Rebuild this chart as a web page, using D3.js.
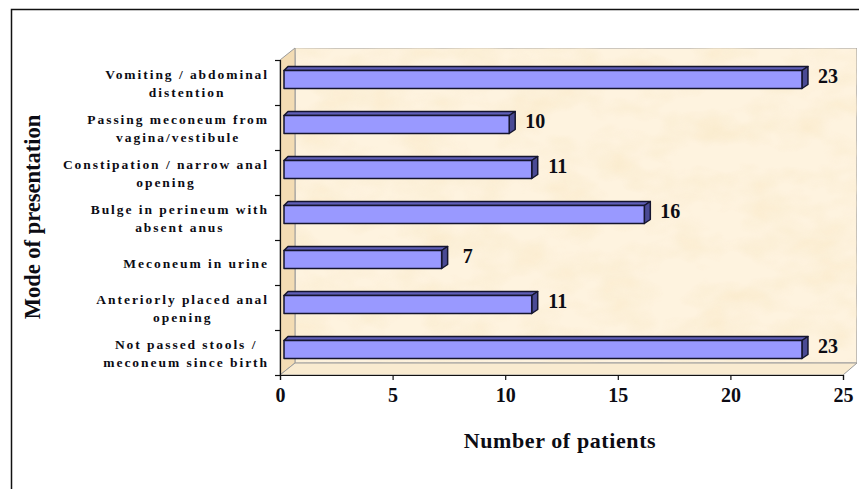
<!DOCTYPE html>
<html><head><meta charset="utf-8">
<script src="https://cdn.jsdelivr.net/npm/d3@7"></script>
<style>html,body{margin:0;padding:0;background:#fff}svg{display:block}text{font-family:"Liberation Serif",serif;font-weight:bold;fill:#0c0c14}</style>
</head><body><svg id="c" width="859" height="489"></svg>
<script>
const categories = ["Vomiting / abdominal|distention","Passing meconeum from|vagina/vestibule","Constipation / narrow anal|opening","Bulge in perineum with|absent anus","Meconeum in urine","Anteriorly placed anal|opening","Not passed stools /|meconeum since birth"];
const patients = [23,10,11,16,7,11,23];
const xTicks = [0,5,10,15,20,25];
const xTitle = "Number of patients";
const yTitle = "Mode of presentation";

const svg = d3.select("#c");
const L=280,R=843,T=60,B=375,dx=15,dy=12;
const x = d3.scaleLinear().domain([0,25]).range([L,R]);
const y = d3.scaleBand().domain(categories).range([T,B]);
const defs = svg.append("defs");
const f = defs.append("filter").attr("id","paper").attr("x",0).attr("y",0).attr("width",1).attr("height",1).attr("color-interpolation-filters","sRGB");
f.append("feTurbulence").attr("type","fractalNoise").attr("baseFrequency","0.02 0.035").attr("numOctaves",3).attr("seed",4).attr("result","n");
f.append("feColorMatrix").attr("in","n").attr("type","matrix").attr("values","0 0 0 0 0.98  0 0 0 0 0.92  0 0 0 0 0.80  1.8 0 0 0 -0.72").attr("result","t");
f.append("feComposite").attr("in","t").attr("in2","SourceGraphic").attr("operator","in").attr("result","c");
f.append("feMerge").selectAll("feMergeNode").data(["SourceGraphic","c"]).enter().append("feMergeNode").attr("in",d=>d);

// outer frame
svg.append("path").attr("d","M11.5,489V9.5H859").attr("fill","none").attr("stroke","#111").attr("stroke-width",1.5);

const poly=(pts,fill,stroke,sw)=>svg.append("path").attr("d",d3.line()(pts)+"Z").attr("fill",fill).attr("stroke",stroke||"none").attr("stroke-width",sw||0).attr("stroke-linejoin","round");
// walls
poly([[L+dx,T-dy],[R+14,T-dy],[R+14,B-dy],[L+dx,B-dy]],"#fef3df","#9b9b9b",1.2).attr("filter","url(#paper)");
poly([[L,T],[L+dx,T-dy],[L+dx,B-dy],[L,B]],"#f3dcb4","#9b9b9b",1);
poly([[L,B],[L+dx,B-dy],[R+14,B-dy],[R,B]],"#f9ebd0","#9b9b9b",1);

// bars
const h=18, ox=4, lift=3, tx=4, ty=4, sx=6;
categories.forEach((c,i)=>{
  const v=patients[i], yc=y(c)+y.bandwidth()/2-lift, x0=x(0)+ox, x1=x(v)+ox, y0=yc-h/2, y1=yc+h/2;
  poly([[x0,y0],[x0+tx,y0-ty],[x1+sx,y0-ty],[x1,y0]],"#5f5fb8","#15152e",1.5);
  poly([[x1,y0],[x1+sx,y0-ty],[x1+sx,y1-ty],[x1,y1]],"#4a4a94","#15152e",1.5);
  poly([[x0,y0],[x1,y0],[x1,y1],[x0,y1]],"#9999ff","#15152e",1.5);
  svg.append("text").attr("x",x1+26).attr("y",yc+3.5).attr("text-anchor","middle").attr("font-size",20).text(v);
});

// axes
const ax = svg.append("g").attr("transform",`translate(0,${B})`).call(d3.axisBottom(x).tickValues(xTicks).tickSize(5).tickPadding(8));
ax.selectAll("path,line").attr("stroke","#111").attr("stroke-width",1.2);
ax.selectAll("text").attr("font-size",20).attr("font-family","Liberation Serif").attr("font-weight","bold").attr("fill","#0c0c14").attr("dy","0.72em");
const yEdges = d3.range(categories.length+1).map(i=>T+i*y.step());
const ay = svg.append("g").attr("transform",`translate(${L},0)`).call(d3.axisLeft(d3.scaleIdentity().domain([T,B])).tickValues(yEdges).tickSize(5).tickFormat(""));
ay.selectAll("path,line").attr("stroke","#111").attr("stroke-width",1.2);

// category labels
const labelRight=269;
categories.forEach(c=>{
  const lines=c.split("|"), yc=y(c)+y.bandwidth()/2;
  const t=svg.append("text").attr("font-size",13.5).attr("letter-spacing","1.95px").attr("text-anchor","middle");
  const sp=lines.map(l=>t.append("tspan").text(l));
  const w=Math.max(...sp.map(s=>s.node().getComputedTextLength()));
  sp.forEach((s,i)=>s.attr("x",labelRight-w/2).attr("y",yc+5+(i-(lines.length-1)/2)*18));
});

svg.append("text").attr("x",560).attr("y",448).attr("text-anchor","middle").attr("font-size",22).attr("letter-spacing","0.6px").text(xTitle);
svg.append("text").attr("transform","translate(40,217) rotate(-90)").attr("text-anchor","middle").attr("font-size",22.5).text(yTitle);
</script></body></html>
